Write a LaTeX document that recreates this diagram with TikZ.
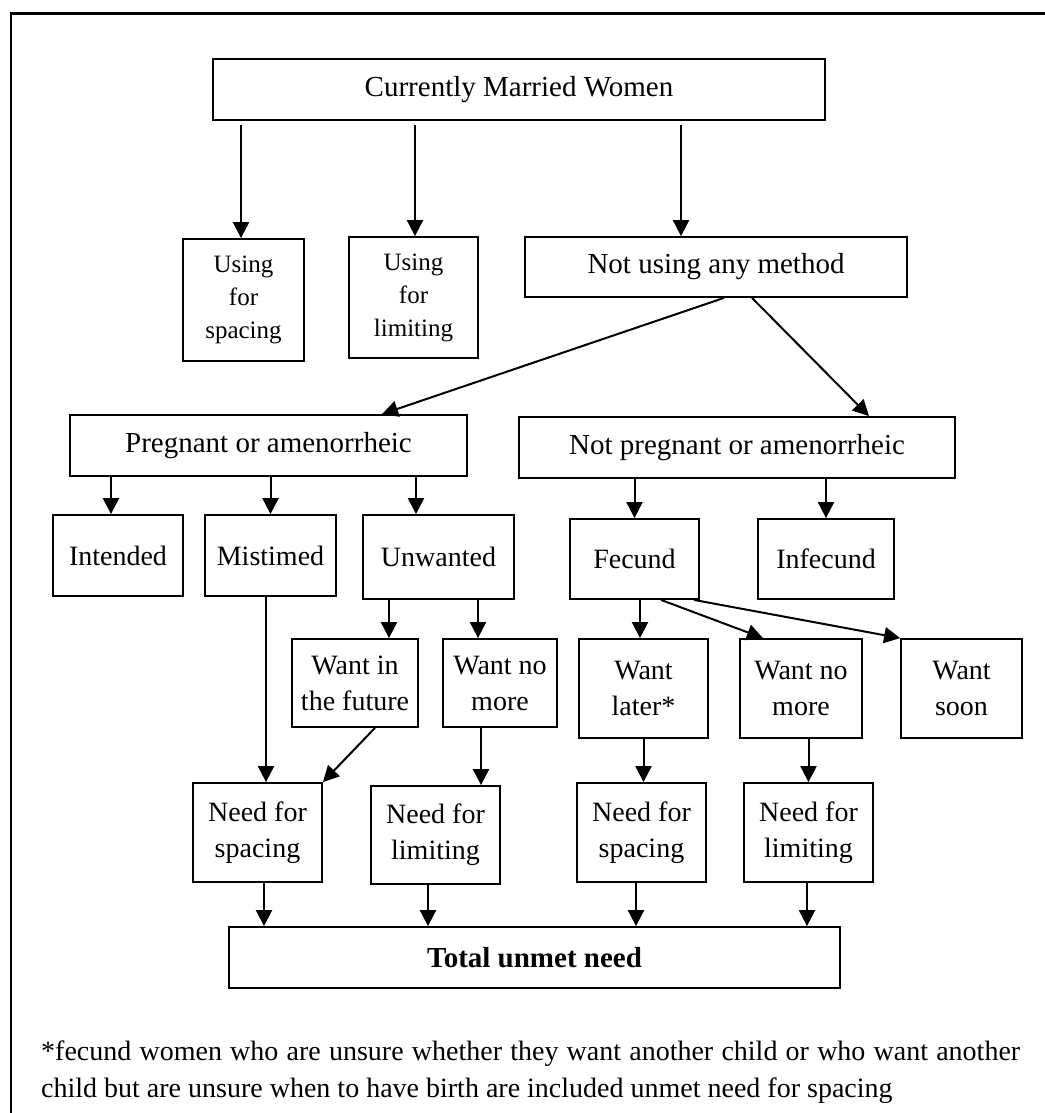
\documentclass[tikz,border=0pt]{standalone}
\usepackage{fontspec}
\setmainfont{Liberation Serif}
\usetikzlibrary{arrows.meta}
\begin{document}
\begin{tikzpicture}[x=1pt,y=-1pt,
  box/.style={draw, line width=1.8pt, inner sep=2pt, align=center,
              font=\fontsize{28}{36}\selectfont},
  bigbox/.style={box, font=\fontsize{29}{34}\selectfont},
  smallbox/.style={box, font=\fontsize{25}{33}\selectfont},
  arr/.style={line width=2pt, -{Triangle[length=16pt,width=16pt]}},
  note/.style={inner sep=0pt, font=\fontsize{28}{36}\selectfont}
]
\useasboundingbox (0,0) rectangle (1044,1113);

% open frame (top and left edges)
\draw[line width=3pt] (9.5,13.5) -- (1050,13.5);
\draw[line width=2pt] (10.5,13) -- (10.5,1120);

% level 0 and 1
\node[bigbox, minimum width=612pt, minimum height=61pt] (cmw) at (519,89.5) {Currently Married Women};
\node[smallbox, minimum width=121pt, minimum height=122pt] (usp) at (243.5,300) {Using\\for\\spacing};
\node[smallbox, minimum width=129pt, minimum height=121pt] (uli) at (413.5,297.5) {Using\\for\\limiting};
\node[bigbox, minimum width=382pt, minimum height=60pt] (nuse) at (716,267) {Not using any method};

% level 2
\node[bigbox, minimum width=397pt, minimum height=61pt] (preg) at (268.5,445.5) {Pregnant or amenorrheic};
\node[bigbox, minimum width=436pt, minimum height=61pt] (npreg) at (737,447.5) {Not pregnant or amenorrheic};

% level 3
\node[box, minimum width=130pt, minimum height=81pt] (intd) at (118,555.5) {Intended};
\node[box, minimum width=131pt, minimum height=81pt] (mist) at (270.5,555.5) {Mistimed};
\node[box, minimum width=151pt, minimum height=84pt] (unw) at (438.5,557) {Unwanted};
\node[box, minimum width=129pt, minimum height=80pt] (fec) at (634.5,559) {Fecund};
\node[box, minimum width=136pt, minimum height=80pt] (infec) at (826,559) {Infecund};

% level 4
\node[box, minimum width=126pt, minimum height=88pt] (wfut) at (355,683) {Want in\\the future};
\node[box, minimum width=114pt, minimum height=88pt] (wnm1) at (500,683) {Want no\\more};
\node[box, minimum width=129pt, minimum height=99pt] (wlat) at (643.5,688.5) {Want\\later*};
\node[box, minimum width=122pt, minimum height=99pt] (wnm2) at (801,688.5) {Want no\\more};
\node[box, minimum width=121pt, minimum height=99pt] (wsoon) at (961.5,688.5) {Want\\soon};

% level 5
\node[box, minimum width=129pt, minimum height=99pt] (ns1) at (257.5,832.5) {Need for\\spacing};
\node[box, minimum width=129pt, minimum height=98pt] (nl1) at (435.5,835) {Need for\\limiting};
\node[box, minimum width=129pt, minimum height=99pt] (ns2) at (641.5,832.5) {Need for\\spacing};
\node[box, minimum width=129pt, minimum height=99pt] (nl2) at (808.5,832.5) {Need for\\limiting};

% total
\node[bigbox, minimum width=611pt, minimum height=61pt, font=\fontsize{29}{34}\selectfont\bfseries] (tot) at (534.5,957.5) {Total unmet need};

% footnote
\node[note, anchor=base west] (fn1) at (41,1060) {\makebox[979pt][s]{*fecund women who are unsure whether they want another child or who want another}};
\node[note, anchor=base west] (fn2) at (41,1097) {child but are unsure when to have birth are included unmet need for spacing};

% connectors
\draw[arr, shorten <=4pt] ([xshift=-2.5pt]usp.north |- cmw.south) -- ([xshift=-2.5pt]usp.north);
\draw[arr, shorten <=4pt] ([xshift=1.5pt]uli.north |- cmw.south) -- ([xshift=1.5pt]uli.north);
\draw[arr, shorten <=4pt] ([xshift=-35pt]nuse.north |- cmw.south) -- ([xshift=-35pt]nuse.north);

\draw[arr] ([xshift=8pt]nuse.south) -- ([xshift=113.5pt]preg.north);
\draw[arr] ([xshift=36pt]nuse.south) -- ([xshift=132pt]npreg.north);

\draw[arr] ([xshift=-7pt]intd.north |- preg.south) -- ([xshift=-7pt]intd.north);
\draw[arr] (mist.north |- preg.south) -- (mist.north);
\draw[arr] ([xshift=-22.5pt]unw.north |- preg.south) -- ([xshift=-22.5pt]unw.north);
\draw[arr] (fec.north |- npreg.south) -- (fec.north);
\draw[arr] (infec.north |- npreg.south) -- (infec.north);

\draw[arr] ([xshift=34pt]wfut.north |- unw.south) -- ([xshift=34pt]wfut.north);
\draw[arr] ([xshift=-22pt]wnm1.north |- unw.south) -- ([xshift=-22pt]wnm1.north);

\draw[arr] ([xshift=-3.5pt]wlat.north |- fec.south) -- ([xshift=-3.5pt]wlat.north);
\draw[arr] ([xshift=26.5pt]fec.south) -- ([xshift=-38pt]wnm2.north);
\draw[arr] ([xshift=-6pt]fec.south east) -- (wsoon.north west);

\draw[arr] ([xshift=-4.5pt]mist.south) -- ([xshift=-4.5pt]mist.south |- ns1.north);
\draw[arr] ([xshift=20pt]wfut.south) -- (ns1.north east);
\draw[arr] ([xshift=-19pt]wnm1.south) -- ([xshift=-19pt]wnm1.south |- nl1.north);
\draw[arr] (wlat.south) -- (wlat.south |- ns2.north);
\draw[arr] (nl2.north |- wnm2.south) -- (nl2.north);

\draw[arr] ([xshift=6.5pt]ns1.south) -- ([xshift=6.5pt]ns1.south |- tot.north);
\draw[arr] ([xshift=-7.5pt]nl1.south) -- ([xshift=-7.5pt]nl1.south |- tot.north);
\draw[arr] ([xshift=-5.5pt]ns2.south) -- ([xshift=-5.5pt]ns2.south |- tot.north);
\draw[arr] ([xshift=-1.5pt]nl2.south) -- ([xshift=-1.5pt]nl2.south |- tot.north);
\end{tikzpicture}
\end{document}
